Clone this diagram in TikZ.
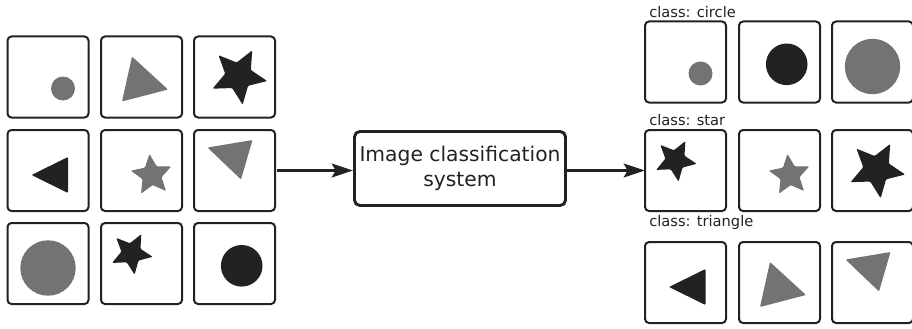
\documentclass[tikz,border=0pt]{standalone}
\usepackage{fontspec}
\setmainfont{DejaVu Sans}
\usetikzlibrary{arrows.meta}
\definecolor{ink}{HTML}{222222}
\definecolor{midgray}{HTML}{737373}
\tikzset{
  cell/.style={draw=ink, line width=1.5pt, rounded corners=3pt, minimum size=60.75pt, inner sep=0pt, outer sep=0pt},
  sysbox/.style={draw=ink, line width=2.2pt, rounded corners=4pt, minimum width=158.25pt, minimum height=55.5pt, inner sep=0pt, align=center, font=\fontsize{15.2}{18.2}\selectfont, text=ink},
  classlabel/.style={anchor=base west, inner sep=0pt, font=\fontsize{11}{13}\selectfont, text=ink},
  arr/.style={draw=ink, line width=1.7pt, -{Stealth[length=16pt, width=10.5pt, inset=3pt]}},
  pics/starp/.style n args={4}{code={%
    \fill[fill=#4, rounded corners=0.8pt] (#3:#1) -- (#3+36:{0.47*#1}) -- (#3+72:#1) -- (#3+108:{0.47*#1}) -- (#3+144:#1) -- (#3+180:{0.47*#1}) -- (#3+216:#1) -- (#3+252:{0.47*#1}) -- (#3+288:#1) -- (#3+324:{0.47*#1}) -- cycle;}},
  pics/circA/.style={code={\fill[fill=midgray] (56.5,53) circle[radius=12];}},
  pics/triB/.style={code={\fill[fill=midgray, rounded corners=0.8pt] (32,21) -- (68,54) -- (22,66) -- cycle;}},
  pics/starC/.style={code={\pic at (45.6,40.5) {starp={29}{0}{10}{ink}};}},
  pics/triD/.style={code={\fill[fill=ink, rounded corners=0.8pt] (25,46) -- (61.5,28) -- (61.5,64) -- cycle;}},
  pics/starE/.style={code={\pic at (51.7,46.1) {starp={21.4}{0}{48}{midgray}};}},
  pics/triF/.style={code={\fill[fill=midgray, rounded corners=0.8pt] (14.5,18.5) -- (59.5,11) -- (48,50.5) -- cycle;}},
  pics/circG/.style={code={\fill[fill=midgray] (41.5,46) circle[radius=27.7];}},
  pics/starH/.style={code={\pic at (31.4,31.3) {starp={21.6}{0}{9.5}{ink}};}},
  pics/circI/.style={code={\fill[fill=ink] (48.7,43.8) circle[radius=20.8];}},
}
\begin{document}
\begin{tikzpicture}[x=0.75pt, y=-0.75pt]
\clip (0,0) rectangle (912,328);
% left grid
\node[cell] (l11) at (48,77) {};
\node[cell] (l12) at (141.5,77) {};
\node[cell] (l13) at (234.5,77) {};
\node[cell] (l21) at (48,170.5) {};
\node[cell] (l22) at (141.5,170.5) {};
\node[cell] (l23) at (234.5,170.5) {};
\node[cell] (l31) at (48,263.5) {};
\node[cell] (l32) at (141.5,263.5) {};
\node[cell] (l33) at (234.5,263.5) {};
\pic at (6.5,35.5) {circA};
\pic at (100,35.5) {triB};
\pic at (193,35.5) {starC};
\pic at (6.5,129) {triD};
\pic at (100,129) {starE};
\pic at (193,129) {triF};
\pic at (6.5,222) {circG};
\pic at (100,222) {starH};
\pic at (193,222) {circI};
% system
\node[sysbox] (sys) at (460,168.5) {Image classification\\system};
% right grid
\node[cell] (r11) at (685.5,62) {};
\node[cell] (r12) at (779.5,62) {};
\node[cell] (r13) at (872.5,62) {};
\node[cell] (r21) at (685.5,170.5) {};
\node[cell] (r22) at (779.5,170.5) {};
\node[cell] (r23) at (872.5,170.5) {};
\node[cell] (r31) at (685.5,282.5) {};
\node[cell] (r32) at (779.5,282.5) {};
\node[cell] (r33) at (872.5,282.5) {};
\pic at (644,20.5) {circA};
\pic at (738,20.5) {circI};
\pic at (831,20.5) {circG};
\pic at (644,129) {starH};
\pic at (738,129) {starE};
\pic at (831,129) {starC};
\pic at (644,241) {triD};
\pic at (738,241) {triB};
\pic at (831,241) {triF};
% labels
\node[classlabel] (lc) at (649,17.3) {class: circle};
\node[classlabel] (ls) at (649,125) {class: star};
\node[classlabel] (lt) at (649,226.7) {class: triangle};
% arrows
\draw[arr, shorten <=1.5pt] (l23.east) -- (l23.east -| sys.west);
\draw[arr] (sys.east |- r21.west) -- (r21.west);
\end{tikzpicture}
\end{document}
